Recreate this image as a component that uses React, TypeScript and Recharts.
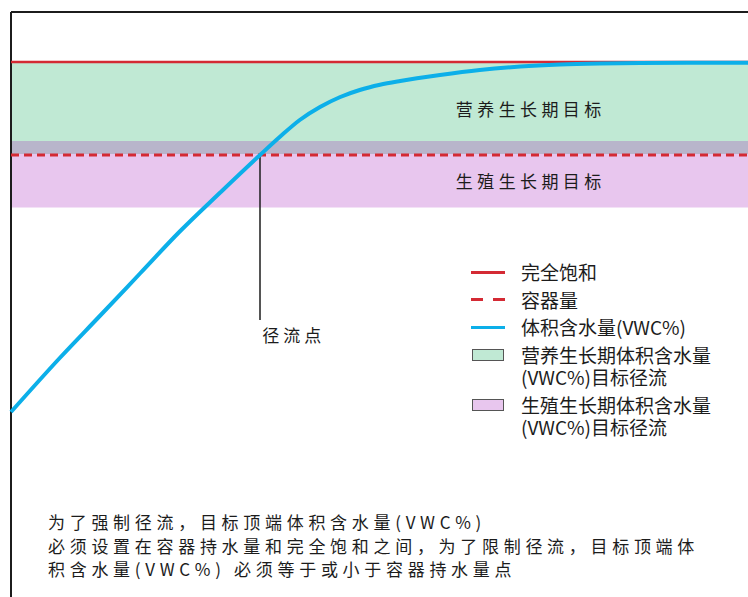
import React from "react";
import {
  ComposedChart,
  Line,
  XAxis,
  YAxis,
  ReferenceArea,
  ReferenceLine,
  ReferenceDot,
} from "recharts";

// ---- data ----
const curveX = [0, 6.5, 11.9, 17.2, 22.5, 27.9, 33.2, 35.9, 38.5, 41.2, 43.9, 46.5, 49.2, 51.9, 57.2, 62.5, 67.9, 73.2, 78.5, 83.9, 91.9, 100];
const curveVWC = [20.0, 25.4, 29.65, 33.85, 38.05, 41.95, 45.7, 47.55, 49.2, 50.5, 51.5, 52.2, 52.72, 53.1, 53.7, 54.2, 54.55, 54.75, 54.85, 54.9, 54.92, 54.93];
const saturation = 55;
const containerCapacity = 45.7;
const vegetativeTarget = [45.8, 54.9];
const generativeTarget = [40.45, 47.1];
const runoffX = 33.2;
const runoffLabelY = 29.2;

const legendLabels = [
  "完全饱和",
  "容器量",
  "体积含水量(VWC%)",
  "营养生长期体积含水量\n(VWC%)目标径流",
  "生殖生长期体积含水量\n(VWC%)目标径流",
];
const regionLabels = ["营养生长期目标", "生殖生长期目标"];
const runoffLabel = "径流点";
const noteText =
  "为了强制径流，目标顶端体积含水量(VWC%)\n必须设置在容器持水量和完全饱和之间，为了限制径流，目标顶端体\n积含水量(VWC%) 必须等于或小于容器持水量点";

const data = curveX.map((x, i) => ({
  x,
  vwc: curveVWC[i],
  sat: saturation,
  cc: containerCapacity,
}));

const overlap = [
  Math.max(vegetativeTarget[0], generativeTarget[0]),
  Math.min(vegetativeTarget[1], generativeTarget[1]),
];

const RED = "#d42a34";
const BLUE = "#0cafe9";
const GREEN = "#c0e9d4";
const PURPLE = "#e8c6ee";
const GRAY = "#b8b5cb";
const INK = "#1c1c1c";
const FONT = '"Noto Sans CJK SC", "Noto Sans", sans-serif';

const makeLabel = (text: string, size: number, spacing: number, anchor: string) => (props: any) => {
  const vb = props.viewBox || {};
  const x = (vb.x ?? 0) + (vb.width ?? 0) / 2;
  const y = (vb.y ?? 0) + (vb.height ?? 0) / 2;
  return (
    <text
      x={x}
      y={y}
      textAnchor={anchor}
      dominantBaseline="central"
      fontSize={size}
      fontFamily={FONT}
      fill={INK}
      style={{ letterSpacing: spacing }}
    >
      {text}
    </text>
  );
};

const Swatch = ({ i }: { i: number }) => {
  if (i === 0)
    return <div style={{ width: 34, height: 3, background: RED }} />;
  if (i === 1)
    return (
      <div style={{ width: 34, height: 3, display: "flex", justifyContent: "space-between" }}>
        <div style={{ width: 12, height: 3, background: RED }} />
        <div style={{ width: 12, height: 3, background: RED }} />
      </div>
    );
  if (i === 2)
    return <div style={{ width: 34, height: 3, background: BLUE }} />;
  return (
    <div
      style={{
        width: 30,
        height: 10,
        background: i === 3 ? GREEN : PURPLE,
        border: "1.5px solid #555",
        marginLeft: 1,
      }}
    />
  );
};

const legendCenters = [272, 299.5, 327, 355, 405];

export default function App() {
  return (
    <div
      style={{
        position: "absolute",
        left: 0,
        top: 0,
        width: 748,
        height: 597,
        overflow: "hidden",
        background: "#fff",
        fontFamily: FONT,
      }}
    >
      <ComposedChart
        width={761}
        height={612}
        data={data}
        margin={{ top: 12, right: 0, bottom: 0, left: 11 }}
      >
        <XAxis type="number" dataKey="x" domain={[0, 100]} hide />
        <YAxis type="number" domain={[0, 60]} hide />
        <ReferenceArea y1={vegetativeTarget[0]} y2={vegetativeTarget[1]} fill={GREEN} fillOpacity={1} stroke="none" />
        <ReferenceArea y1={generativeTarget[0]} y2={generativeTarget[1]} fill={PURPLE} fillOpacity={1} stroke="none" />
        <ReferenceArea y1={overlap[0]} y2={overlap[1]} fill={GRAY} fillOpacity={1} stroke="none" />
        <ReferenceLine x={0} stroke={INK} strokeWidth={2} />
        <ReferenceLine y={60} stroke={INK} strokeWidth={2} />
        <ReferenceLine
          segment={[
            { x: runoffX, y: containerCapacity },
            { x: runoffX, y: runoffLabelY },
          ]}
          stroke={INK}
          strokeWidth={1.5}
        />
        <ReferenceDot
          x={69.3}
          y={50.4}
          r={0}
          fill="none"
          stroke="none"
          label={{ content: makeLabel(regionLabels[0], 17, 4.4, "middle") }}
        />
        <ReferenceDot
          x={69.3}
          y={43.2}
          r={0}
          fill="none"
          stroke="none"
          label={{ content: makeLabel(regionLabels[1], 17, 4.4, "middle") }}
        />
        <ReferenceDot
          x={33.5}
          y={27.8}
          r={0}
          fill="none"
          stroke="none"
          label={{ content: makeLabel(runoffLabel, 17, 4, "start") }}
        />
        <Line
          dataKey="sat"
          type="linear"
          stroke={RED}
          strokeWidth={2.5}
          dot={false}
          activeDot={false}
          isAnimationActive={false}
        />
        <Line
          dataKey="cc"
          type="linear"
          stroke={RED}
          strokeWidth={3}
          strokeDasharray="8 5"
          dot={false}
          activeDot={false}
          isAnimationActive={false}
        />
        <Line
          dataKey="vwc"
          type="monotone"
          stroke={BLUE}
          strokeWidth={4}
          dot={false}
          activeDot={false}
          isAnimationActive={false}
        />
      </ComposedChart>

      {legendLabels.map((label, i) => (
        <div
          key={i}
          style={{
            position: "absolute",
            left: 471,
            top: legendCenters[i] - 11,
            display: "flex",
            alignItems: "flex-start",
          }}
        >
          <div style={{ width: 50, height: 22, display: "flex", alignItems: "center" }}>
            <Swatch i={i} />
          </div>
          <div style={{ fontSize: 19, lineHeight: "22px", color: INK, whiteSpace: "pre" }}>
            {label}
          </div>
        </div>
      ))}

      <div
        style={{
          position: "absolute",
          left: 48,
          top: 510,
          fontSize: 17,
          lineHeight: "23.5px",
          letterSpacing: 4.7,
          color: INK,
          whiteSpace: "pre",
        }}
      >
        {noteText}
      </div>
    </div>
  );
}
